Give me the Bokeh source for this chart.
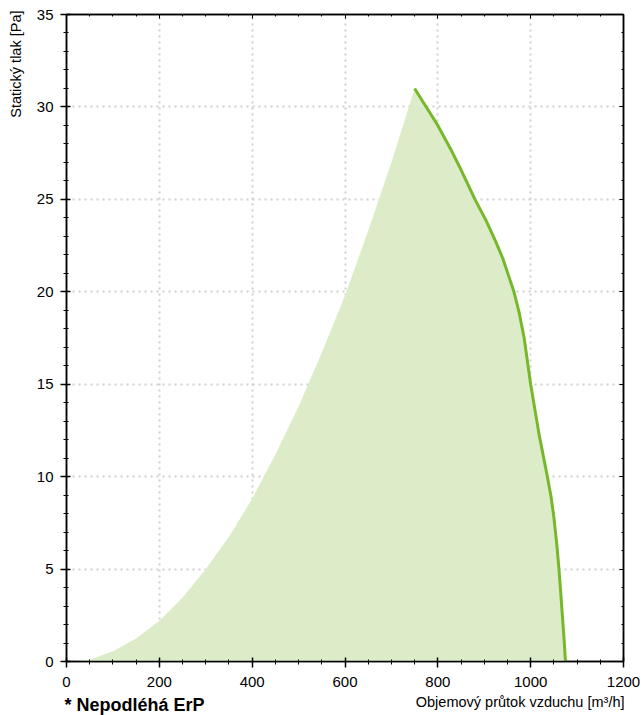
from bokeh.plotting import figure
from bokeh.models import LinearAxis, SingleIntervalTicker, Range1d, Title
from bokeh.embed import file_html
from bokeh.resources import INLINE

# System (allowed working area) curve
sys_x = [0, 50, 100, 150, 200, 250, 300, 350, 400, 450, 500, 550, 600, 650, 700, 750]
sys_y = [0, 0.1, 0.55, 1.25, 2.2, 3.45, 5.0, 6.75, 8.8, 11.2, 13.8, 16.7, 19.8, 23.3, 27.0, 31.0]

# Fan curve
fan_x = [750, 775, 800, 828, 850, 880, 905, 925, 940, 952, 964, 975, 986, 1000, 1018, 1036,
         1044, 1050, 1056, 1060, 1064, 1068, 1072, 1075]
fan_y = [31.0, 30.0, 29.0, 27.7, 26.6, 25.0, 23.8, 22.7, 21.8, 20.9, 20.0, 18.9, 17.5, 15.0, 12.3, 10.0,
         8.9, 7.8, 6.4, 5.3, 4.0, 2.6, 1.2, 0.0]

x_ticks_interval = 200
y_ticks_interval = 5
x_label = "Objemový průtok vzduchu [m³/h]"
y_label = "Statický tlak [Pa]"
note = "* Nepodléhá ErP"

FONT = "Liberation Sans"
FILL = "#dcecc8"
LINE = "#76b82a"

p = figure(width=644, height=715, x_range=Range1d(0, 1200), y_range=Range1d(0, 35),
           output_backend="svg", toolbar_location=None,
           min_border_left=65, min_border_right=21, min_border_top=14, min_border_bottom=54)
p.outline_line_color = "black"
p.outline_line_width = 1.5
p.background_fill_color = "white"
p.border_fill_color = "white"

xt = SingleIntervalTicker(interval=x_ticks_interval, num_minor_ticks=4)
yt = SingleIntervalTicker(interval=y_ticks_interval, num_minor_ticks=5)

for ax, t in ((p.xaxis[0], xt), (p.yaxis[0], yt)):
    ax.ticker = t
    ax.axis_line_color = "black"
    ax.axis_line_width = 1.5
    ax.major_tick_line_color = "black"
    ax.minor_tick_line_color = "black"
    ax.major_tick_line_width = 1.5
    ax.major_tick_in = 4
    ax.major_tick_out = 6
    ax.minor_tick_in = 2
    ax.minor_tick_out = 3
    ax.major_label_text_font = FONT
    ax.major_label_text_font_size = "15px"
    ax.major_label_text_color = "black"
p.xaxis[0].major_label_standoff = 9
p.yaxis[0].major_label_standoff = 7

for loc, t in (("above", xt), ("right", yt)):
    ax = LinearAxis(ticker=t, major_label_text_font_size="1px", major_label_text_color=None,
                    major_label_standoff=0,
                    major_tick_in=4, major_tick_out=0, minor_tick_in=2, minor_tick_out=0,
                    axis_line_color="black", axis_line_width=1.5,
                    major_tick_line_color="black", minor_tick_line_color="black")
    p.add_layout(ax, loc)

# axis titles and the note, as Title annotations in the side panels
p.add_layout(Title(text=y_label, align="right", vertical_align="top", standoff=14.6, offset=-4,
                   text_font=FONT, text_font_size="14.5px", text_font_style="normal",
                   text_color="black"), "left")
p.add_layout(Title(text=x_label, align="right", vertical_align="top", standoff=8, offset=-1,
                   text_font=FONT, text_font_size="14.5px", text_font_style="normal",
                   text_color="black"), "below")
p.add_layout(Title(text=note, align="left", vertical_align="top", standoff=-42, offset=-2,
                   text_font=FONT, text_font_size="18px", text_font_style="bold",
                   text_color="black"), "below")

p.xgrid.ticker = xt
p.ygrid.ticker = yt
for g in (p.xgrid, p.ygrid):
    g.grid_line_color = "#cfcfcf"
    g.grid_line_width = 2
    g.grid_line_dash = "2 4"

# Filled working area
patch_x = sys_x + fan_x[1:]
patch_y = sys_y + fan_y[1:]
p.patch(patch_x, patch_y, fill_color=FILL, line_color=None)
p.line(fan_x, fan_y, line_color=LINE, line_width=3)

open("out.html", "w").write(file_html(p, INLINE))
